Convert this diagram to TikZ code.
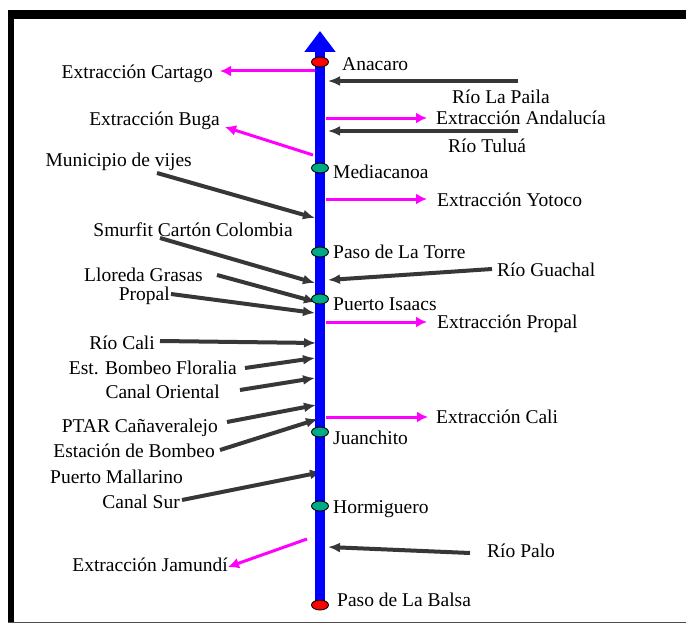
\documentclass[tikz,border=0pt]{standalone}
\usepackage{fontspec}
\setmainfont{Liberation Serif}
\newfontfamily\labelfont{Liberation Serif}
\usetikzlibrary{arrows.meta,shapes.geometric}
\definecolor{stgreen}{RGB}{0,170,130}
\definecolor{inkgray}{RGB}{55,55,55}
\definecolor{pinkout}{RGB}{255,0,255}
\definecolor{riverblue}{RGB}{0,0,255}
\begin{document}
\begin{tikzpicture}[x=1pt,y=-1pt,
  lbl/.style={font=\labelfont\fontsize{19.5}{21}\selectfont, inner sep=0pt, text height=13pt, text depth=4pt, yshift=-2pt},
  rl/.style={lbl, anchor=west},
  ll/.style={lbl, anchor=east},
  inflow/.style={draw=inkgray, line width=4pt, -{Latex[length=12pt,width=10pt]}},
  outflow/.style={draw=pinkout, line width=3pt, -{Latex[length=11pt,width=11pt]}},
  station/.style={ellipse, draw=black, line width=0.9pt, minimum width=17pt, minimum height=10pt, inner sep=0pt},
]
\useasboundingbox (0,0) rectangle (686,626);
\fill[white] (0,0) rectangle (686,626);
% frame
\fill[black] (8,10) rectangle (686,19);
\fill[black] (8,10) rectangle (14,622);
\draw[black!70, line width=1pt] (8,622.5) -- (686,622.5);

% coordinates of connector ends
\coordinate (src) at (320,605);
\coordinate (mouth) at (320,31);
\coordinate (cartago-s) at (315,71);   \coordinate (cartago-e) at (220,71);
\coordinate (buga-s) at (313,155);     \coordinate (buga-e) at (225,127);
\coordinate (andal-s) at (326,118);    \coordinate (andal-e) at (427,118);
\coordinate (yotoco-s) at (326,199);   \coordinate (yotoco-e) at (427,199);
\coordinate (xpropal-s) at (326,322);  \coordinate (xpropal-e) at (427,322);
\coordinate (xcali-s) at (326,417);    \coordinate (xcali-e) at (428,417);
\coordinate (jamundi-s) at (307,539);  \coordinate (jamundi-e) at (228,567);

\coordinate (paila-s) at (518,81);     \coordinate (paila-e) at (328,81);
\coordinate (tulua-s) at (518,131);    \coordinate (tulua-e) at (328,131);
\coordinate (vijes-s) at (157,173);    \coordinate (vijes-e) at (315,218);
\coordinate (smurfit-s) at (160,238);  \coordinate (smurfit-e) at (315,283);
\coordinate (guachal-s) at (492,269);  \coordinate (guachal-e) at (328,280);
\coordinate (lloreda-s) at (217,275);  \coordinate (lloreda-e) at (316,302);
\coordinate (propal-s) at (171,294);   \coordinate (propal-e) at (315,313);
\coordinate (cali-s) at (160,341);     \coordinate (cali-e) at (316,343);
\coordinate (floralia-s) at (245,368); \coordinate (floralia-e) at (315,358);
\coordinate (oriental-s) at (240,390); \coordinate (oriental-e) at (315,378);
\coordinate (ptar-s) at (227,422);     \coordinate (ptar-e) at (316,405);
\coordinate (bombeo-s) at (220,450);   \coordinate (bombeo-e) at (318,419);
\coordinate (sur-s) at (182,500);      \coordinate (sur-e) at (322,472);
\coordinate (palo-s) at (470,553);     \coordinate (palo-e) at (328,547);

% outflows
\draw[outflow] (cartago-s) -- (cartago-e);
\draw[outflow] (buga-s) -- (buga-e);
\draw[outflow] (andal-s) -- (andal-e);
\draw[outflow] (yotoco-s) -- (yotoco-e);
\draw[outflow] (xpropal-s) -- (xpropal-e);
\draw[outflow] (xcali-s) -- (xcali-e);
\draw[outflow] (jamundi-s) -- (jamundi-e);

% inflows
\draw[inflow] (paila-s) -- (paila-e);
\draw[inflow] (tulua-s) -- (tulua-e);
\draw[inflow] (vijes-s) -- (vijes-e);
\draw[inflow] (smurfit-s) -- (smurfit-e);
\draw[inflow] (guachal-s) -- (guachal-e);
\draw[inflow] (lloreda-s) -- (lloreda-e);
\draw[inflow] (propal-s) -- (propal-e);
\draw[inflow] (cali-s) -- (cali-e);
\draw[inflow] (floralia-s) -- (floralia-e);
\draw[inflow] (oriental-s) -- (oriental-e);
\draw[inflow] (ptar-s) -- (ptar-e);
\draw[inflow] (bombeo-s) -- (bombeo-e);
\draw[inflow] (sur-s) -- (sur-e);
\draw[inflow] (palo-s) -- (palo-e);

% river
\draw[riverblue, line width=10pt, -{Triangle[length=21pt,width=30pt]}] (src) -- (mouth);

% stations
\node[station, fill=red] (anacaro) at (320,62) {};
\node[station, fill=stgreen] (mediacanoa) at (320,168) {};
\node[station, fill=stgreen] (torre) at (320,252) {};
\node[station, fill=stgreen] (isaacs) at (320,299) {};
\node[station, fill=stgreen] (juanchito) at (320,432) {};
\node[station, fill=stgreen] (hormiguero) at (320,506) {};
\node[station, fill=red] (balsa) at (320,605) {};

% right labels
\node[rl] (t-anacaro) at (342,64) {Anacaro};
\node[rl] (t-paila) at (452,97) {Río La Paila};
\node[rl] (t-andal) at (436,118) {Extracción Andalucía};
\node[rl] (t-tulua) at (448,146) {Río Tuluá};
\node[rl] (t-mediacanoa) at (333,172) {Mediacanoa};
\node[rl] (t-yotoco) at (437,200) {Extracción Yotoco};
\node[rl] (t-torre) at (333,252) {Paso de La Torre};
\node[rl] (t-guachal) at (497,270) {Río Guachal};
\node[rl] (t-isaacs) at (333,304) {Puerto Isaacs};
\node[rl] (t-xpropal) at (437,322) {Extracción Propal};
\node[rl] (t-xcali) at (436,417) {Extracción Cali};
\node[rl] (t-juanchito) at (333,438) {Juanchito};
\node[rl] (t-hormiguero) at (333,507) {Hormiguero};
\node[rl] (t-palo) at (487,551) {Río Palo};
\node[rl] (t-balsa) at (337,600) {Paso de La Balsa};

% left labels
\node[ll] (t-cartago) at (213,72) {Extracción Cartago};
\node[ll] (t-buga) at (220,119) {Extracción Buga};
\node[ll] (t-vijes) at (192,160) {Municipio de vijes};
\node[ll] (t-smurfit) at (293,230) {Smurfit Cartón Colombia};
\node[ll] (t-lloreda) at (203,275) {Lloreda Grasas};
\node[ll] (t-propal) at (170,294) {Propal};
\node[ll] (t-cali) at (155,343) {Río Cali};
\node[ll] (t-floralia) at (237,368) {Est. Bombeo Floralia};
\node[ll] (t-oriental) at (220,392) {Canal Oriental};
\node[ll] (t-ptar) at (218,426) {PTAR Cañaveralejo};
\node[ll] (t-bombeo) at (215,451) {Estación de Bombeo};
\node[rl] (t-mallarino) at (50,477) {Puerto Mallarino};
\node[ll] (t-sur) at (180,502) {Canal Sur};
\node[ll] (t-jamundi) at (228,565) {Extracción Jamundí};
\end{tikzpicture}
\end{document}
